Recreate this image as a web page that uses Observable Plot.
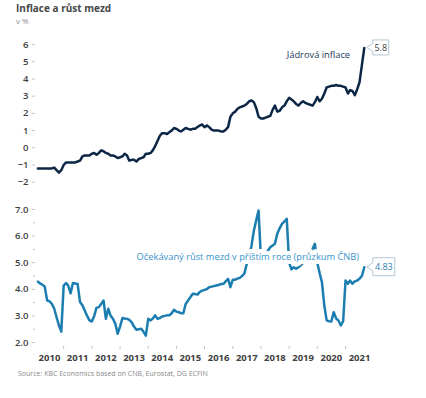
<!DOCTYPE html>
<html><head><meta charset="utf-8">
<script src="https://cdn.jsdelivr.net/npm/d3@7"></script>
<script src="https://cdn.jsdelivr.net/npm/@observablehq/plot@0.6"></script>
<style>
body{margin:0;background:#fff;font-family:"Open Sans",sans-serif;}
#wrap{position:relative;width:426px;height:398px;overflow:hidden;background:#fff;}
#title{position:absolute;left:16px;top:3px;font-weight:700;font-size:10px;line-height:1;color:#474747;white-space:nowrap;}
#sub{position:absolute;left:16px;top:17px;font-size:8px;line-height:1;color:#8a8a8a;}
#topChart{position:absolute;left:0;top:30px;}
#bottomChart{position:absolute;left:0;top:200px;}
#source{position:absolute;left:18px;top:370px;font-size:7px;line-height:1;color:#8a8a8a;white-space:nowrap;}
svg g[aria-label="y-axis tick label"] text{font-weight:600;}
svg g[aria-label="x-axis tick label"] text{font-weight:700;}
</style></head><body>
<div id="wrap">
  <div id="title">Inflace a růst mezd</div>
  <div id="sub">v %</div>
  <div id="topChart"></div>
  <div id="bottomChart"></div>
  <div id="source">Source: KBC Economics based on CNB, Eurostat, DG ECFIN</div>
</div>
<script>
// ---- data (monthly, first value = Feb 2010) ----
const startMonth = "2010-02";
const coreInflation = [
 -1.2,-1.2,-1.2,-1.2,-1.2,-1.2,-1.2,-1.15,-1.3,-1.44,
 -1.3,-1.0,-0.85,-0.85,-0.85,-0.85,-0.85,-0.8,-0.75,-0.5,
 -0.45,-0.45,-0.45,-0.35,-0.3,-0.4,-0.3,-0.15,-0.2,-0.3,
 -0.35,-0.45,-0.45,-0.5,-0.6,-0.55,-0.5,-0.35,-0.45,-0.75,
 -0.7,-0.7,-0.8,-0.65,-0.6,-0.55,-0.35,-0.35,-0.3,-0.15,
 0.1,0.4,0.7,0.85,0.85,0.8,0.9,1.0,1.15,1.1,
 1.0,0.95,1.05,1.15,1.1,1.05,1.1,1.1,1.2,1.3,
 1.35,1.2,1.3,1.2,1.05,1.0,1.0,1.0,0.95,0.95,
 1.05,1.2,1.8,2.0,2.1,2.25,2.35,2.4,2.45,2.55,
 2.7,2.75,2.65,2.3,1.8,1.7,1.7,1.75,1.8,1.85,
 2.2,2.45,2.1,2.15,2.35,2.45,2.7,2.9,2.8,2.7,
 2.55,2.45,2.6,2.7,2.6,2.55,2.5,2.45,2.65,2.95,
 2.7,2.85,3.15,3.5,3.55,3.6,3.6,3.65,3.6,3.6,
 3.55,3.5,3.15,3.35,3.3,3.05,3.4,3.8,4.8,5.8
];
const wageExpectations = [
 4.29,4.22,4.17,4.1,3.58,3.55,3.45,3.27,2.95,2.64,
 2.41,4.14,4.23,4.14,3.85,4.24,4.22,4.2,3.52,3.4,
 3.2,3.0,2.83,2.79,3.0,3.3,3.33,3.45,3.58,2.89,
 3.27,3.0,2.89,2.7,2.33,2.6,2.92,2.9,2.89,2.85,
 2.76,2.6,2.48,2.5,2.52,2.4,2.26,2.89,2.83,2.9,
 3.02,2.89,2.92,2.98,3.0,3.02,3.02,3.1,3.23,3.16,
 3.14,3.1,3.1,3.45,3.58,3.7,3.83,3.82,3.8,3.9,
 3.95,3.98,4.01,4.08,4.1,4.12,4.14,4.16,4.2,4.2,
 4.3,4.39,4.08,4.36,4.36,4.4,4.43,4.5,4.6,4.96,
 5.2,5.65,6.2,6.6,6.96,5.1,5.2,5.3,5.45,5.58,
 5.65,5.71,6.1,6.3,6.46,6.55,6.65,5.0,4.75,4.83,
 4.77,4.83,4.9,5.0,5.1,5.2,5.35,5.52,5.71,5.0,
 4.6,4.27,3.39,2.83,2.8,2.79,3.14,2.9,2.83,2.64,
 2.8,4.33,4.21,4.33,4.21,4.3,4.33,4.4,4.5,4.83
];
const years = [2010,2011,2012,2013,2014,2015,2016,2017,2018,2019,2020,2021];
const topYTicks = [-2,-1,0,1,2,3,4,5,6];
const bottomYTicks = [2,3,4,5,6,7];
const bottomMinorTicks = [2.5,3.5,4.5,5.5,6.5];
const coreLabel = "Jádrová inflace";
const wageLabel = "Očekávaný růst mezd v příštím roce (průzkum ČNB)";
const coreCallout = "5.8";
const wageCallout = "4.83";

// ---- build tables ----
const start = d3.utcParse("%Y-%m")(startMonth);
const coreData = coreInflation.map((v,i)=>({date:d3.utcMonth.offset(start,i), value:v}));
const wageData = wageExpectations.map((v,i)=>({date:d3.utcMonth.offset(start,i), value:v}));
const yearStarts = years.slice(1).map(y=>new Date(Date.UTC(y,0,1)));
const yearMids = years.map(y=>new Date(Date.UTC(y,6,1)));

const xScale = {type:"utc", domain:[new Date(Date.UTC(2010,0,1)), new Date(Date.UTC(2022,0,1))], label:null};
const font = "Open Sans";
const tickGrey = "#c4c4c4", labelGrey = "#404040";
const coreColor = "#0c2646", wageColor = "#1b7db0", wageText = "#3a93cc";

const topPlot = Plot.plot({
  width:426, height:170, marginLeft:35, marginRight:52.8, marginTop:14, marginBottom:18.3,
  style:{fontFamily:font, background:"transparent", overflow:"visible"},
  x:{...xScale, axis:null},
  y:{domain:[-2,6], label:null},
  marks:[
    Plot.axisY(topYTicks, {tickSize:3, tickPadding:4, stroke:tickGrey, fill:labelGrey, fontSize:9.5, label:null}),
    Plot.line(coreData, {x:"date", y:"value", stroke:coreColor, strokeWidth:2.5}),
    Plot.text([coreLabel], {x:()=>new Date(Date.UTC(2021,2,1)), y:()=>5.4, text:d=>d, textAnchor:"end", fill:"#1d3a60", fontSize:9.3})
  ]
});
document.getElementById("topChart").appendChild(topPlot);

const bottomPlot = Plot.plot({
  width:426, height:170, marginLeft:35, marginRight:52.8, marginTop:9, marginBottom:24,
  style:{fontFamily:font, background:"transparent", overflow:"visible"},
  x:xScale,
  y:{domain:[2,7], insetBottom:4, label:null},
  marks:[
    Plot.axisY(bottomYTicks, {tickSize:3, tickPadding:4, stroke:tickGrey, fill:labelGrey, fontSize:9.5, tickFormat:d3.format(".1f"), label:null}),
    Plot.axisY(bottomMinorTicks, {tickSize:2, stroke:tickGrey, tickFormat:()=>"", label:null}),
    Plot.axisX(yearStarts, {tickSize:3, stroke:tickGrey, tickFormat:()=>"", label:null}),
    Plot.axisX(yearMids, {tickSize:0, tickPadding:8, fill:labelGrey, fontSize:9.5, tickFormat:d=>String(d.getUTCFullYear()), label:null}),
    Plot.line(wageData, {x:"date", y:"value", stroke:wageColor, strokeWidth:2.5}),
    Plot.text([wageLabel], {x:()=>new Date(Date.UTC(2017,6,15)), y:()=>5.2, text:d=>d, textAnchor:"middle", fill:wageText, stroke:"white", strokeWidth:8, fontSize:9.3})
  ]
});
document.getElementById("bottomChart").appendChild(bottomPlot);

// ---- value callouts, positioned through the plots' scales ----
function callout(plot, last, label, w, h, textColor){
  const px = plot.scale("x").apply(last.date) + 3;
  const py = plot.scale("y").apply(last.value);
  const bx = px + 6, top = py - h/2, bot = py + h/2;
  const g = d3.select(plot).append("g");
  g.append("path")
    .attr("d", `M${px},${py} L${bx},${py-4} L${bx},${top} L${bx+w},${top} L${bx+w},${bot} L${bx},${bot} L${bx},${py+4} Z`)
    .attr("fill","white").attr("stroke","#b3c6d3").attr("stroke-width",1);
  g.append("text").attr("x", bx + w/2).attr("y", py).attr("dy","0.35em")
    .attr("text-anchor","middle").attr("font-size",9).attr("font-family",font)
    .attr("fill",textColor).text(label);
}
callout(topPlot, coreData[coreData.length-1], coreCallout, 16, 15, "#404040");
callout(bottomPlot, wageData[wageData.length-1], wageCallout, 22, 18, "#2f7fb0");
</script>
</body></html>
